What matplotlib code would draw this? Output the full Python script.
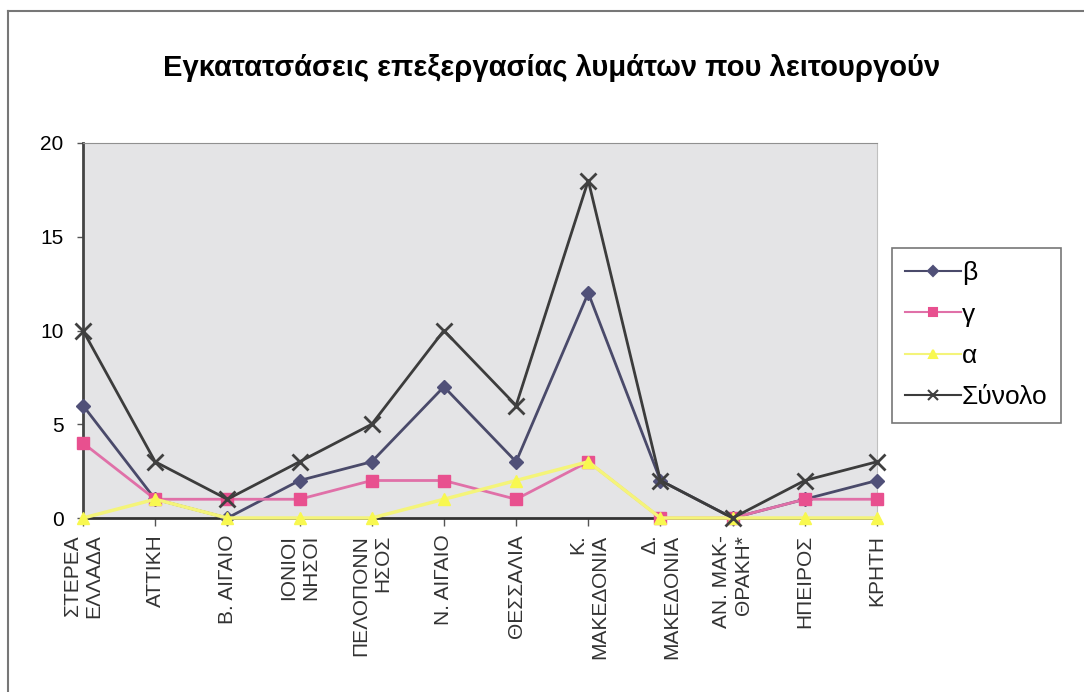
import numpy as np
import matplotlib.pyplot as plt
from matplotlib.lines import Line2D

plt.rcParams['font.family'] = ['Liberation Sans', 'DejaVu Sans']

regions = ['ΣΤΕΡΕΑ\nΕΛΛΑΔΑ', 'ΑΤΤΙΚΗ', 'Β. ΑΙΓΑΙΟ', 'ΙΟΝΙΟΙ\nΝΗΣΟΙ', 'ΠΕΛΟΠΟΝΝ\nΗΣΟΣ',
           'Ν. ΑΙΓΑΙΟ', 'ΘΕΣΣΑΛΙΑ', 'Κ.\nΜΑΚΕΔΟΝΙΑ', 'Δ.\nΜΑΚΕΔΟΝΙΑ', 'ΑΝ. ΜΑΚ-\nΘΡΑΚΗ*',
           'ΗΠΕΙΡΟΣ', 'ΚΡΗΤΗ']
beta = [6, 1, 0, 2, 3, 7, 3, 12, 2, 0, 1, 2]
gamma = [4, 1, 1, 1, 2, 2, 1, 3, 0, 0, 1, 1]
alpha = [0, 1, 0, 0, 0, 1, 2, 3, 0, 0, 0, 0]
total = [10, 3, 1, 3, 5, 10, 6, 18, 2, 0, 2, 3]
names = ['β', 'γ', 'α', 'Σύνολο']

# style per series: line colour, marker, marker size, marker colour
styles = [('#4a4a6a', 'D', 7, '#505078'),
          ('#e070a8', 's', 8, '#e8508f'),
          ('#f4f47a', '^', 8, '#f8f850'),
          ('#3c3c3c', 'x', 11, '#404040')]

W, H = 1084, 692
fig = plt.figure(figsize=(W/100, H/100), dpi=100)
ax = fig.add_axes([83/W, 1-518/H, (877-83)/W, (518-143)/H])
ax.set_facecolor('#e4e4e6')

x = np.arange(len(regions))
handles = []
for i, (vals, name) in enumerate(zip([beta, gamma, alpha, total], names)):
    lc, mk, ms, mc = styles[i]
    ax.plot(x, vals, color=lc, lw=2.5 if mk == '^' else 2, marker=mk, ms=ms,
            mfc=mc, mec=mc, mew=2 if mk == 'x' else 1, clip_on=False, zorder=3 + (mk == 'x'))
    handles.append(Line2D([], [], color=lc, lw=1.5, marker=mk, ms=ms*0.7,
                          mfc=mc, mec=mc, mew=1.5, label=name))

ax.set_xlim(0, len(regions)-1)
ax.set_ylim(0, 20)
ax.set_yticks([0, 5, 10, 15, 20])
ax.set_xticks(x)
ax.set_xticklabels(regions, rotation=90, fontsize=15, color='#333333',
                   va='top', ha='center', multialignment='right')
ax.tick_params(axis='y', labelsize=15, length=4, width=1, pad=10, color='#555555')
ax.tick_params(axis='x', length=6, width=1, pad=6, color='#555555')

ax.spines['left'].set_color('#444444')
ax.spines['left'].set_linewidth(2)
ax.spines['bottom'].set_color('#333333')
ax.spines['bottom'].set_linewidth(2)
ax.spines['top'].set_color('#909090')
ax.spines['right'].set_color('#c0c0c0')

fig.text(552/W, 1-68/H, 'Εγκατατσάσεις επεξεργασίας λυμάτων που λειτουργούν',
         ha='center', va='center', fontsize=21, fontweight='bold')

leg = fig.legend(handles=handles, loc='upper left', bbox_to_anchor=(892/W, 1-248/H),
                 fontsize=19, handlelength=2.1, handletextpad=0.05, labelspacing=0.66,
                 borderpad=0.5, borderaxespad=0, frameon=True, fancybox=False)
leg.get_frame().set_edgecolor('#555555')
leg.get_frame().set_linewidth(1.2)

# outer chart border
fig.add_artist(Line2D([8/W, 8/W], [0, 1-11/H], color='#777777', lw=1.5))
fig.add_artist(Line2D([8/W, 1], [1-11/H, 1-11/H], color='#777777', lw=1.5))

fig.savefig('out.png', dpi=100)
